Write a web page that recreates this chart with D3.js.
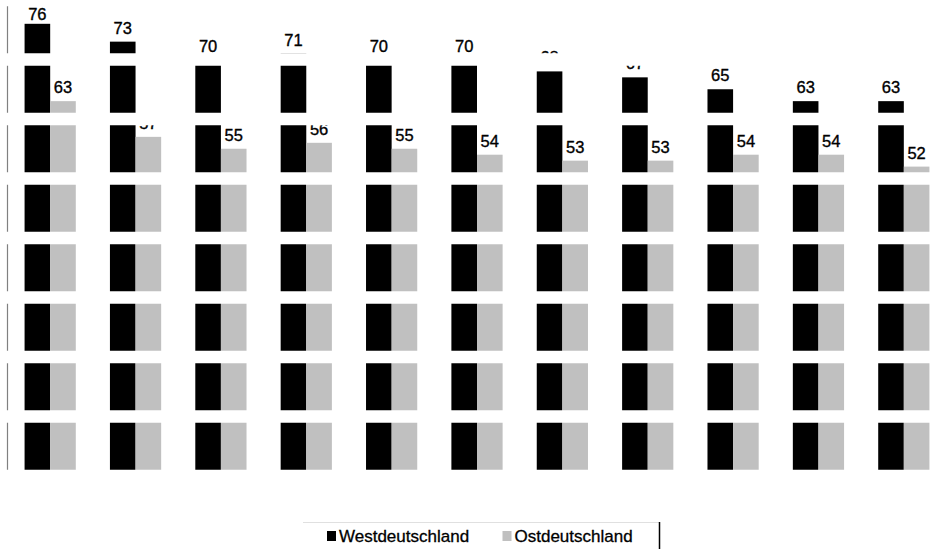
<!DOCTYPE html>
<html>
<head>
<meta charset="utf-8">
<script src="https://cdn.jsdelivr.net/npm/d3@7"></script>
<style>
  html, body { margin: 0; padding: 0; background: #fff; }
  svg { display: block; font-family: "Liberation Sans", Arial, sans-serif; }
</style>
</head>
<body>
<svg id="chart" width="943" height="549"></svg>
<script>
// ---- data ----
const categories = ["1", "2", "3", "4", "5", "6", "7", "8", "9", "10", "11"];
const seriesNames = ["Westdeutschland", "Ostdeutschland"];
const westValues = [76, 73, 70, 71, 70, 70, 68, 67, 65, 63, 63];
const ostValues  = [63, 57, 55, 56, 55, 54, 53, 53, 54, 54, 52];
const yTicks = [0, 10, 20, 30, 40, 50, 60, 70, 80];
const seriesColors = ["#000000", "#c0c0c0"];

const svg = d3.select("#chart");

const x0 = d3.scaleBand().domain(categories).range([7.5, 946.5])
  .paddingInner(0.4).paddingOuter(0.2);
const x1 = d3.scaleBand().domain(seriesNames).range([0, x0.bandwidth()]).padding(0);
const y = d3.scaleLinear().domain([0, 80]).range([476, 0]);
const color = d3.scaleOrdinal().domain(seriesNames).range(seriesColors);

const rows = categories.map((c, i) => ({
  cat: c,
  vals: [
    { s: seriesNames[0], v: westValues[i] },
    { s: seriesNames[1], v: ostValues[i] }
  ]
}));

// y axis line
svg.append("line")
  .attr("x1", 7.5).attr("x2", 7.5)
  .attr("y1", y(80)).attr("y2", y(0))
  .attr("stroke", "#808080").attr("stroke-width", 1.2);

const groups = svg.append("g").selectAll("g")
  .data(rows).join("g")
  .attr("transform", d => `translate(${x0(d.cat)},0)`);

groups.selectAll("rect")
  .data(d => d.vals).join("rect")
  .attr("x", d => x1(d.s))
  .attr("width", x1.bandwidth())
  .attr("y", d => y(d.v))
  .attr("height", d => y(0) - y(d.v))
  .attr("fill", d => color(d.s));

groups.selectAll("text")
  .data(d => d.vals).join("text")
  .attr("x", d => x1(d.s) + x1.bandwidth() / 2)
  .attr("y", d => Math.max(y(d.v) - 8, 20))
  .attr("text-anchor", "middle")
  .attr("font-size", 16.5)
  .attr("fill", "#000")
  .attr("stroke", "#000").attr("stroke-width", 0.35)
  .text(d => d.v);

// white gridlines drawn on top
svg.append("g").selectAll("line")
  .data(yTicks).join("line")
  .attr("x1", 0).attr("x2", 943)
  .attr("y1", d => y(d)).attr("y2", d => y(d))
  .attr("stroke", "#ffffff").attr("stroke-width", 12.5);

// legend
const legendBox = svg.append("g");
legendBox.append("line")
  .attr("x1", 303).attr("x2", 659).attr("y1", 522.5).attr("y2", 522.5)
  .attr("stroke", "#e0e0e0").attr("stroke-width", 1);
legendBox.append("line")
  .attr("x1", 659.5).attr("x2", 659.5).attr("y1", 522).attr("y2", 549)
  .attr("stroke", "#000").attr("stroke-width", 1.5);

const legendX = [327, 502.5];
const legend = legendBox.selectAll("g.item")
  .data(seriesNames).join("g").attr("class", "item")
  .attr("transform", (d, i) => `translate(${legendX[i]},531)`);
legend.append("rect")
  .attr("width", 9).attr("height", 10)
  .attr("fill", d => color(d));
legend.append("text")
  .attr("x", 12).attr("y", 11)
  .attr("font-size", 17)
  .attr("fill", "#000")
  .attr("stroke", "#000").attr("stroke-width", 0.3)
  .text(d => d);
</script>
</body>
</html>
